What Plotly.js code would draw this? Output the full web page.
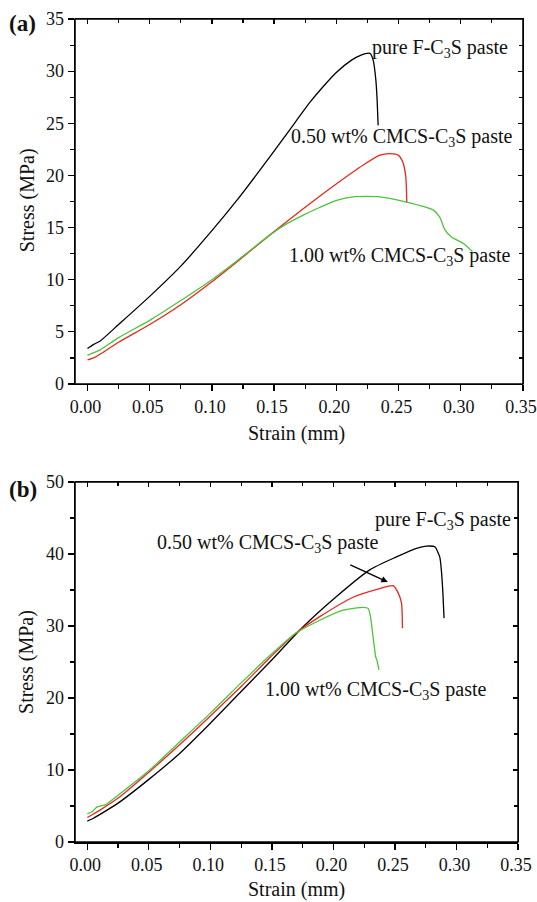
<!DOCTYPE html>
<html>
<head>
<meta charset="utf-8">
<script src="https://cdn.plot.ly/plotly-3.0.1.min.js"></script>
<style>html,body{margin:0;padding:0;background:#fff;}#chart{width:537px;height:902px;}</style>
</head>
<body>
<div id="chart"></div>
<script>
// ---- Panel (a) data ----
const aPureX = [0, 0.005, 0.01, 0.025, 0.05, 0.075, 0.10, 0.12, 0.1467, 0.1627, 0.1787, 0.19, 0.2002, 0.2122, 0.219, 0.227, 0.2296, 0.2318, 0.2328, 0.2336];
const aPureY = [3.4, 3.8, 4.1, 5.7, 8.4, 11.3, 14.7, 17.6, 21.8, 24.4, 27.0, 28.6, 29.9, 31.06, 31.5, 31.7, 31.06, 29.1, 27.2, 24.8];
const a050X = [0, 0.005, 0.01, 0.025, 0.05, 0.075, 0.10, 0.12, 0.1467, 0.1734, 0.2002, 0.2216, 0.235, 0.243, 0.2497, 0.2537, 0.2558, 0.2564, 0.2566];
const a050Y = [2.3, 2.5, 2.85, 4.0, 5.7, 7.6, 9.8, 11.7, 14.3, 16.8, 19.2, 21.0, 21.95, 22.1, 21.95, 21.2, 19.9, 18.5, 17.4];
const a100X = [0, 0.005, 0.01, 0.025, 0.05, 0.075, 0.10, 0.12, 0.1467, 0.16, 0.1734, 0.187, 0.2002, 0.2135, 0.235, 0.2564, 0.2778, 0.2831, 0.2872, 0.2925, 0.3018, 0.3094];
const a100Y = [2.75, 3.0, 3.25, 4.45, 6.1, 8.0, 10.0, 11.8, 14.3, 15.35, 16.2, 16.95, 17.6, 17.95, 17.95, 17.45, 16.7, 16.0, 14.8, 14.1, 13.5, 12.7];

// ---- Panel (b) data ----
const bPureX = [0, 0.005, 0.01, 0.025, 0.05, 0.075, 0.10, 0.125, 0.1483, 0.1754, 0.2025, 0.2295, 0.2512, 0.2675, 0.2756, 0.2824, 0.2864, 0.2877, 0.289, 0.2899];
const bPureY = [2.9, 3.3, 3.8, 5.4, 8.7, 12.3, 16.5, 20.9, 25.0, 29.9, 34.1, 37.8, 39.6, 40.8, 41.1, 41.0, 39.6, 37.8, 34.5, 31.1];
const b050X = [0, 0.005, 0.01, 0.025, 0.05, 0.075, 0.10, 0.125, 0.1483, 0.1686, 0.1889, 0.216, 0.2376, 0.2485, 0.2526, 0.2553, 0.2561];
const b050Y = [3.4, 3.9, 4.4, 6.1, 9.7, 13.5, 17.5, 21.6, 25.6, 28.9, 31.3, 34.0, 35.2, 35.6, 34.6, 33.2, 29.7];
const b100X = [0, 0.004, 0.0076, 0.015, 0.025, 0.05, 0.075, 0.10, 0.125, 0.1483, 0.1686, 0.1889, 0.2079, 0.2241, 0.2282, 0.2301, 0.2322, 0.2344, 0.2354, 0.237];
const b100Y = [3.95, 4.2, 4.85, 5.2, 6.5, 9.9, 13.9, 17.9, 22.1, 25.9, 28.9, 30.8, 32.2, 32.6, 32.45, 31.3, 28.5, 25.7, 25.2, 23.9];

const xTickVals = [0, 0.05, 0.10, 0.15, 0.20, 0.25, 0.30, 0.35];

const labelPure = 'pure F-C<sub>3</sub>S paste';
const label050 = '0.50 wt% CMCS-C<sub>3</sub>S paste';
const label100 = '1.00 wt% CMCS-C<sub>3</sub>S paste';

const BLACK = '#000000', RED = '#e8261f', GREEN = '#4cc43c';
const FONT = '"Liberation Serif", "Times New Roman", serif';

// panel geometry (paper fractions)
const domAX = [0.1397, 0.9739], domAY = [0.5743, 0.9789];
const domBX = [0.1397, 0.9646], domBY = [0.0665, 0.4656];

function tr(x, y, color, xa, ya) {
  return {x: x, y: y, type: 'scatter', mode: 'lines', xaxis: xa, yaxis: ya,
          line: {color: color, width: 1.3, shape: 'spline', smoothing: 0.6}, hoverinfo: 'skip', showlegend: false};
}
function frameTrace(xa, ya) {
  return {x: [null], y: [null], type: 'scatter', mode: 'lines', xaxis: xa, yaxis: ya,
          hoverinfo: 'skip', showlegend: false};
}

const data = [
  frameTrace('x2', 'y2'),
  frameTrace('x4', 'y4'),
  tr(aPureX, aPureY, BLACK, 'x', 'y'),
  tr(a050X, a050Y, RED, 'x', 'y'),
  tr(a100X, a100Y, GREEN, 'x', 'y'),
  tr(bPureX, bPureY, BLACK, 'x3', 'y3'),
  tr(b050X, b050Y, RED, 'x3', 'y3'),
  tr(b100X, b100Y, GREEN, 'x3', 'y3')
];

const tickfont = {family: FONT, size: 18, color: '#111'};
function baseAxis(extra) {
  return Object.assign({
    showgrid: false, zeroline: false, showline: true, linecolor: '#000', linewidth: 1.5,
    tickcolor: '#000', tickwidth: 1.3, tickfont: tickfont, fixedrange: true
  }, extra);
}

const xMain = (dom, anchor, shift) => baseAxis({
  domain: dom, anchor: anchor, range: [-0.01, 0.35], tickvals: xTickVals, tickformat: '.2f',
  ticks: 'outside', ticklen: 6, ticklabelshift: shift, ticklabeloverflow: 'allow',
  minor: {dtick: 0.025, tick0: 0, ticks: 'outside', ticklen: 4, tickwidth: 1.2, tickcolor: '#000', showgrid: false}
});
const xTop = (dom, anchor) => baseAxis({
  domain: dom, anchor: anchor, side: 'top', range: [-0.01, 0.35], dtick: 0.05, tick0: 0,
  ticks: 'inside', ticklen: 5, showticklabels: false,
  minor: {dtick: 0.025, tick0: 0, ticks: 'inside', ticklen: 4, tickwidth: 1.2, tickcolor: '#000', showgrid: false}
});
const yMain = (dom, anchor, rng, dt) => baseAxis({
  domain: dom, anchor: anchor, range: rng, dtick: dt, tick0: 0, ticks: 'outside', ticklen: 6,
  minor: {dtick: dt / 2, tick0: 0, ticks: 'outside', ticklen: 4, tickwidth: 1.2, tickcolor: '#000', showgrid: false}
});
const yRight = (dom, anchor, rng, dt) => baseAxis({
  domain: dom, anchor: anchor, side: 'right', range: rng, dtick: dt, tick0: 0,
  ticks: 'inside', ticklen: 5, showticklabels: false,
  minor: {dtick: dt / 2, tick0: 0, ticks: 'inside', ticklen: 4, tickwidth: 1.2, tickcolor: '#000', showgrid: false}
});

const annFont = {family: FONT, size: 20, color: '#111'};
function txt(text, x, y, xr, yr) {
  return {text: text, x: x, y: y, xref: xr, yref: yr, showarrow: false, font: annFont,
          xanchor: 'center', yanchor: 'middle'};
}

const annotations = [
  txt(labelPure, 0.2831, 32.2, 'x', 'y'),
  txt(label050, 0.2526, 23.6, 'x', 'y'),
  txt(label100, 0.251, 12.2, 'x', 'y'),
  txt(labelPure, 0.2888, 44.7, 'x3', 'y3'),
  txt(label050, 0.1467, 41.4, 'x3', 'y3'),
  txt(label100, 0.2344, 21.1, 'x3', 'y3'),
  {x: 0.2442, y: 36.1, xref: 'x3', yref: 'y3', ax: 0.2125, ay: 38.6, axref: 'x3', ayref: 'y3',
   showarrow: true, arrowhead: 2, arrowsize: 1, arrowwidth: 1.3, arrowcolor: '#000', text: ''},
  {text: 'Strain (mm)', x: 0.553, y: 0.519, xref: 'paper', yref: 'paper', showarrow: false,
   font: annFont, xanchor: 'center', yanchor: 'middle'},
  {text: 'Strain (mm)', x: 0.553, y: 0.0135, xref: 'paper', yref: 'paper', showarrow: false,
   font: annFont, xanchor: 'center', yanchor: 'middle'},
  {text: 'Stress (MPa)', x: 0.0503, y: 0.778, xref: 'paper', yref: 'paper', showarrow: false,
   font: annFont, textangle: -90, xanchor: 'center', yanchor: 'middle'},
  {text: 'Stress (MPa)', x: 0.0503, y: 0.2661, xref: 'paper', yref: 'paper', showarrow: false,
   font: annFont, textangle: -90, xanchor: 'center', yanchor: 'middle'},
  {text: '<b>(a)</b>', x: 0.0428, y: 0.9745, xref: 'paper', yref: 'paper', showarrow: false,
   font: {family: FONT, size: 23, color: '#111'}, xanchor: 'center', yanchor: 'middle'},
  {text: '<b>(b)</b>', x: 0.0428, y: 0.4568, xref: 'paper', yref: 'paper', showarrow: false,
   font: {family: FONT, size: 23, color: '#111'}, xanchor: 'center', yanchor: 'middle'}
];

// plot frames (box around each panel)
const frameBox = (xr, yr) => ({type: 'rect', xref: xr + ' domain', yref: yr + ' domain',
  x0: 0, x1: 1, y0: 0, y1: 1, line: {color: '#000', width: 1.5}, fillcolor: 'rgba(0,0,0,0)', layer: 'above'});

const layout = {
  width: 537, height: 902,
  margin: {l: 0, r: 0, t: 0, b: 0, pad: 0},
  paper_bgcolor: '#fff', plot_bgcolor: 'rgba(0,0,0,0)',
  showlegend: false,
  xaxis: xMain(domAX, 'y', -2),
  yaxis: yMain(domAY, 'x', [0, 35], 5),
  xaxis2: xTop(domAX, 'y2'),
  yaxis2: yRight(domAY, 'x2', [0, 35], 5),
  xaxis3: xMain(domBX, 'y3', -2),
  yaxis3: yMain(domBY, 'x3', [0, 50], 10),
  xaxis4: xTop(domBX, 'y4'),
  yaxis4: yRight(domBY, 'x4', [0, 50], 10),
  shapes: [frameBox('x', 'y'), frameBox('x3', 'y3')],
  annotations: annotations
};

Plotly.newPlot('chart', data, layout, {displayModeBar: false, staticPlot: true});
</script>
</body>
</html>
